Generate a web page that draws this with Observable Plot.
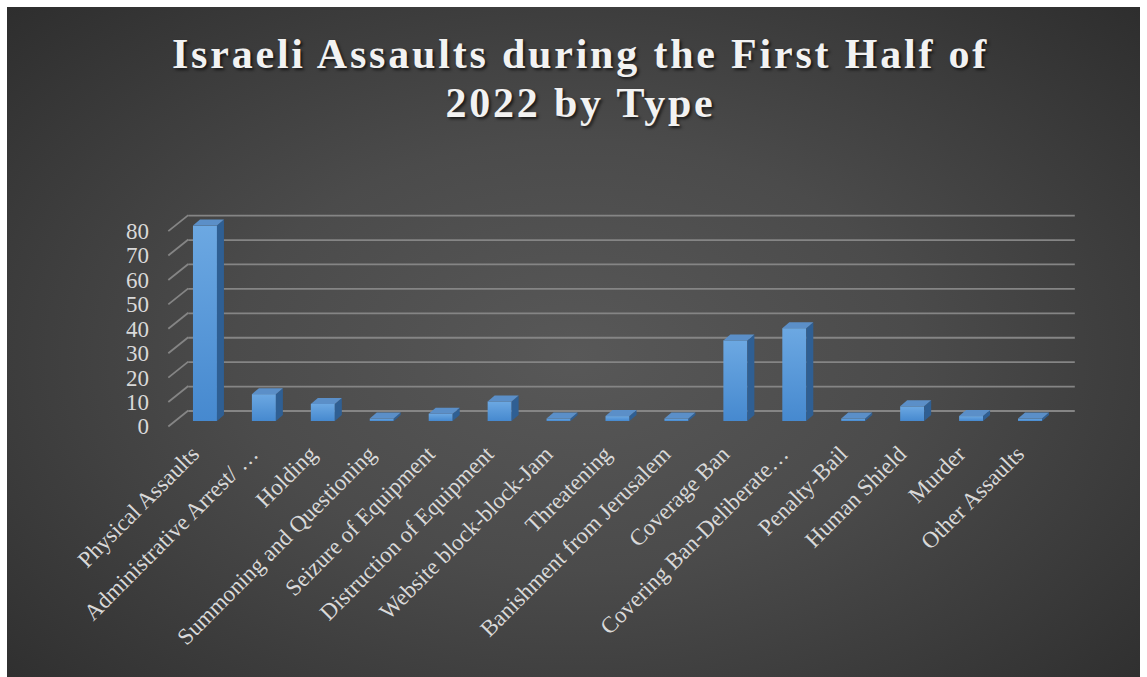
<!DOCTYPE html>
<html><head><meta charset="utf-8">
<script src="https://cdn.jsdelivr.net/npm/d3@7"></script>
<script src="https://cdn.jsdelivr.net/npm/@observablehq/plot@0.6"></script>
<style>
body{margin:0;background:#fff;width:1147px;height:677px;overflow:hidden}
#panel{position:absolute;left:7px;top:7px;width:1133px;height:670px;overflow:hidden;
  background:radial-gradient(ellipse 75% 80% at 50% 52%, #585858 0%, #4b4b4b 40%, #2a2a2a 100%);}
#title{height:130px;box-sizing:border-box;padding-top:23px;padding-left:14px;text-align:center;
  font-family:"Liberation Serif",serif;font-weight:bold;font-size:42px;line-height:49px;letter-spacing:2.8px;
  color:#f2f2f2;text-shadow:2px 2px 3px rgba(0,0,0,.65)}
#chart svg{display:block}
</style></head>
<body><div id="panel"><div id="title">Israeli Assaults during the First Half of<br>2022 by Type</div><div id="chart"></div></div>
<script>
const categories = ["Physical Assaults","Administrative Arrest/ …","Holding","Summoning and Questioning","Seizure of Equipment","Distruction of Equipment","Website block-block-Jam","Threatening","Banishment from Jerusalem","Coverage Ban","Covering Ban-Deliberate…","Penalty-Bail","Human Shield","Murder","Other Assaults"];
const values = [80, 11, 7, 1, 3, 8, 1, 2, 1, 33, 38, 1, 6, 2, 1];
const yTicks = [0, 10, 20, 30, 40, 50, 60, 70, 80];
const data = categories.map((c, i) => ({type: c, value: values[i]}));

const gridColor = "#858585";
const textColor = "#d9d9d9";
const font = "Liberation Serif";

const chart = Plot.plot({
  width: 1133,
  height: 540,
  marginLeft: 168.5,
  marginRight: 80.5,
  marginTop: 88.6,
  marginBottom: 256,
  style: {background: "transparent", color: textColor, fontFamily: font},
  x: {domain: categories, paddingInner: 0.593, paddingOuter: 0.2965, round: false, axis: null},
  y: {domain: [0, 80]},
  marks: [
    Plot.ruleY(yTicks, {dy: -10.5, dx: 12.8, insetRight: -2.5, stroke: gridColor, strokeWidth: 1.8}),
    Plot.axisY({ticks: yTicks, tickSize: 0, tickPadding: 27, dy: 5.5, fontSize: 23, fontFamily: font, fill: textColor, label: null}),
    Plot.barY(data, {x: "type", y: "value", fill: "url(#frontGrad)"}),
    Plot.text(categories, {x: d => d, frameAnchor: "bottom", rotate: -45, textAnchor: "end", lineAnchor: "bottom",
      dx: -5, dy: 34, fontSize: 23, fontFamily: font, fill: textColor})
  ]
});

const svg = d3.select(chart);
const defs = svg.insert("defs", ":first-child");
const lg = defs.append("linearGradient").attr("id", "frontGrad").attr("x1", 0).attr("y1", 0).attr("x2", 0).attr("y2", 1);
lg.append("stop").attr("offset", "0%").attr("stop-color", "#6ca8e2");
lg.append("stop").attr("offset", "100%").attr("stop-color", "#4689cf");

const xs = chart.scale("x"), ys = chart.scale("y");
const bw = xs.bandwidth;
const x0f = xs.range[0];
// depth connectors at the left of the gridlines
const dg = svg.append("g").attr("stroke", gridColor).attr("stroke-width", 1.8);
yTicks.forEach(v => {
  const y = ys.apply(v);
  dg.append("line").attr("x1", x0f + 12.8).attr("y1", y - 10.5).attr("x2", x0f - 7.2).attr("y2", y + 5.5);
});
// 3D faces of the bars
const DX = 7, DY = -6;
const fg = svg.append("g");
data.forEach(d => {
  const xa = xs.apply(d.type), xb = xa + bw, yt = ys.apply(d.value), yb = ys.apply(0);
  fg.append("polygon").attr("points", [[xb, yt], [xb + DX, yt + DY], [xb + DX, yb + DY], [xb, yb]].join(" ")).attr("fill", "#2f5f93");
  fg.append("polygon").attr("points", [[xa, yt], [xa + DX, yt + DY], [xb + DX, yt + DY], [xb, yt]].join(" ")).attr("fill", "#5b8fc8");
});

document.getElementById("chart").appendChild(chart);
</script>
</body></html>
